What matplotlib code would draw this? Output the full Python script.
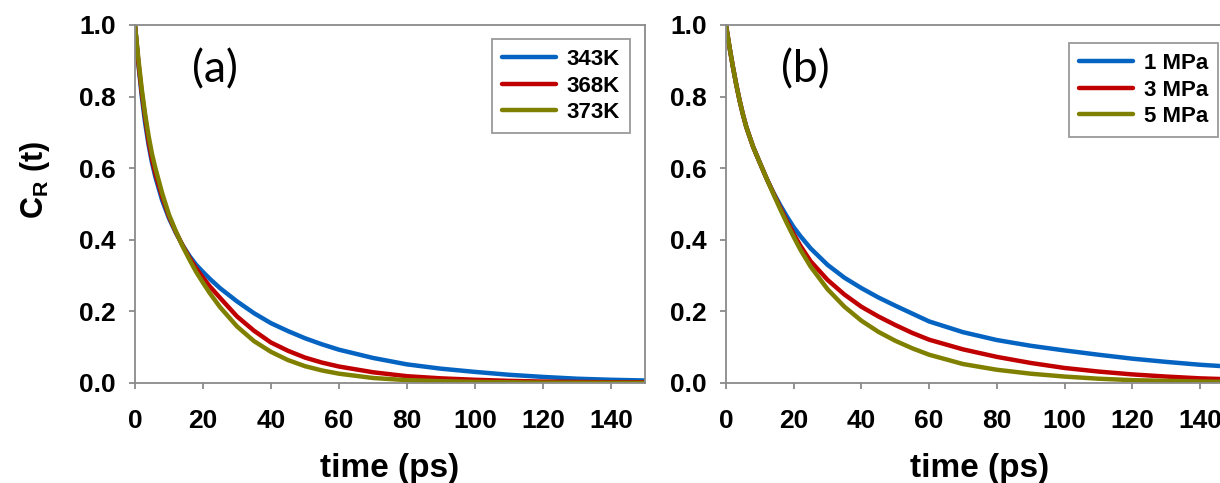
import matplotlib
matplotlib.use("Agg")
import matplotlib.pyplot as plt

# ---- data ----
t_a = [0, 1, 2, 3, 4, 5, 6, 8, 10, 12, 14, 16, 18, 20, 22, 25, 30, 35, 40, 45, 50, 55, 60,
       70, 80, 90, 100, 110, 120, 130, 140, 150]
a_343K = [1.0, 0.89, 0.80, 0.725, 0.665, 0.615, 0.575, 0.51, 0.46, 0.42, 0.385, 0.355, 0.33,
          0.31, 0.291, 0.265, 0.228, 0.195, 0.167, 0.145, 0.125, 0.108, 0.093,
          0.07, 0.052, 0.04, 0.031, 0.023, 0.017, 0.012, 0.009, 0.007]
a_368K = [1.0, 0.895, 0.81, 0.74, 0.675, 0.625, 0.585, 0.52, 0.465, 0.422, 0.384, 0.35, 0.32,
          0.294, 0.27, 0.238, 0.186, 0.146, 0.113, 0.09, 0.071, 0.057, 0.046,
          0.03, 0.019, 0.013, 0.009, 0.006, 0.004, 0.003, 0.002, 0.002]
a_373K = [1.0, 0.905, 0.82, 0.75, 0.69, 0.64, 0.60, 0.53, 0.47, 0.424, 0.382, 0.345, 0.31,
          0.28, 0.251, 0.212, 0.158, 0.117, 0.087, 0.064, 0.047, 0.035, 0.026,
          0.014, 0.008, 0.005, 0.003, 0.002, 0.001, 0.0008, 0.0005, 0.0003]

t_b = [0, 1, 2, 3, 4, 5, 6, 8, 10, 12, 14, 16, 18, 20, 22, 25, 30, 35, 40, 45, 50, 55, 60,
       70, 80, 90, 100, 110, 120, 130, 140, 150]
b_1MPa = [1.0, 0.94, 0.885, 0.835, 0.79, 0.75, 0.715, 0.66, 0.615, 0.571, 0.532, 0.497, 0.465,
          0.435, 0.41, 0.376, 0.33, 0.294, 0.265, 0.239, 0.216, 0.194, 0.172,
          0.142, 0.12, 0.104, 0.091, 0.079, 0.068, 0.059, 0.051, 0.045]
b_3MPa = [1.0, 0.94, 0.885, 0.835, 0.79, 0.75, 0.715, 0.66, 0.615, 0.571, 0.53, 0.49, 0.452,
          0.416, 0.383, 0.34, 0.288, 0.247, 0.213, 0.186, 0.162, 0.14, 0.121,
          0.094, 0.073, 0.056, 0.042, 0.032, 0.024, 0.018, 0.013, 0.01]
b_5MPa = [1.0, 0.94, 0.885, 0.835, 0.79, 0.75, 0.715, 0.66, 0.615, 0.571, 0.528, 0.486, 0.446,
          0.408, 0.372, 0.325, 0.262, 0.213, 0.174, 0.143, 0.118, 0.097, 0.079,
          0.053, 0.037, 0.026, 0.018, 0.012, 0.008, 0.006, 0.004, 0.003]

labels_a = ["343K", "368K", "373K"]
labels_b = ["1 MPa", "3 MPa", "5 MPa"]
xticks = [0, 20, 40, 60, 80, 100, 120, 140]
yticks = [0.0, 0.2, 0.4, 0.6, 0.8, 1.0]

colors = ["#0563C1", "#C00000", "#808000"]

plt.rcParams["font.family"] = ["Liberation Sans", "DejaVu Sans"]
plt.rcParams["mathtext.fontset"] = "custom"
plt.rcParams["mathtext.rm"] = "Liberation Sans"
plt.rcParams["mathtext.bf"] = "Liberation Sans:bold"

W, H = 1220, 483
fig = plt.figure(figsize=(W / 100, H / 100), dpi=100)

def make_axes(left_px, right_px):
    return fig.add_axes([left_px / W, 1 - 383 / H, (right_px - left_px) / W, (383 - 25) / H])

ax_a = make_axes(135, 645)
ax_b = make_axes(726, 726 + 7.5 * 67.7)

def style(ax, t, series, labels, panel, leg_anchor):
    for y, c, lab in zip(series, colors, labels):
        ax.plot(t, y, color=c, lw=3.2, label=lab, solid_capstyle="round",
                solid_joinstyle="round")
    ax.set_xlim(0, 150)
    ax.set_ylim(0, 1.0)
    ax.set_xticks(xticks)
    ax.set_yticks(yticks)
    ax.set_xticklabels([str(v) for v in xticks])
    ax.set_yticklabels([f"{v:.1f}" for v in yticks])
    for s in ax.spines.values():
        s.set_color("#8a8a8a")
        s.set_linewidth(1.3)
    ax.tick_params(axis="both", direction="out", length=4, width=1.3, color="#8a8a8a",
                   labelsize=19)
    ax.tick_params(axis="x", pad=15)
    ax.tick_params(axis="y", pad=10)
    for lbl in ax.get_xticklabels() + ax.get_yticklabels():
        lbl.set_fontweight("bold")
    ax.set_xlabel("time (ps)", fontsize=24, fontweight="bold")
    ax.xaxis.set_label_coords(0.5, -0.195)
    ax.text(0.157, 0.875, panel, transform=ax.transAxes, fontsize=32,
            family=["Lato", "DejaVu Sans"], ha="center", va="center")
    leg = ax.legend(loc="upper right", bbox_to_anchor=leg_anchor, frameon=True, fancybox=False,
                    edgecolor="#808080", prop={"size": 16, "weight": "bold"},
                    handlelength=2.4, handletextpad=0.5, labelspacing=0.25,
                    borderpad=0.45, borderaxespad=0)
    leg.get_frame().set_linewidth(1.3)
    for line in leg.get_lines():
        line.set_linewidth(3.2)

style(ax_a, t_a, [a_343K, a_368K, a_373K], labels_a, "(a)",
      ((630 - 135) / 510, (383 - 39) / 358))
style(ax_b, t_b, [b_1MPa, b_3MPa, b_5MPa], labels_b, "(b)",
      ((1218 - 726) / (7.5 * 67.7), (383 - 43) / 358))

fig.text(35 / W, 1 - 180 / H, r"C$_\mathregular{R}$ (t)", rotation=90, ha="center", va="center",
         fontsize=22, fontweight="bold")

fig.savefig("out.png", dpi=100)
